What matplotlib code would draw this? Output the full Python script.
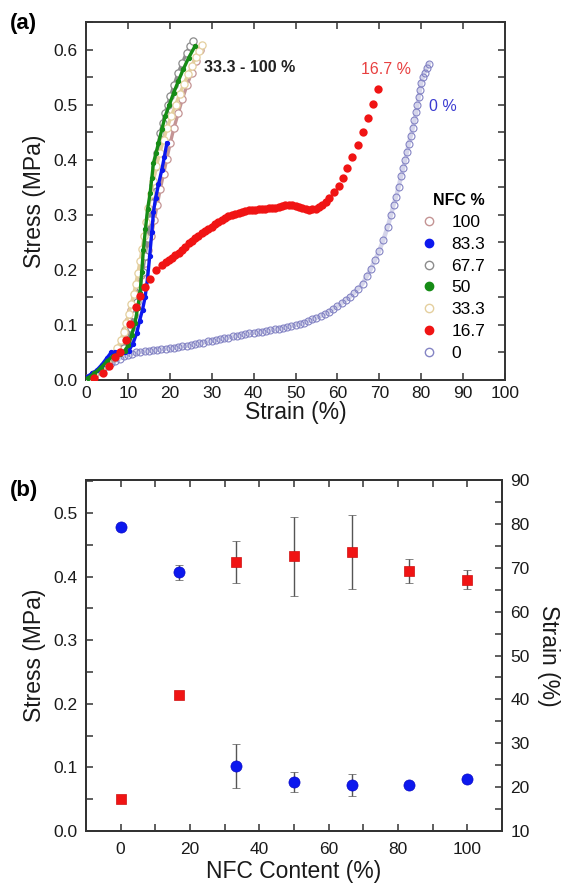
import numpy as np
import matplotlib.pyplot as plt
from matplotlib.lines import Line2D
from matplotlib.ticker import MultipleLocator

plt.rcParams['font.family'] = ['Liberation Sans', 'DejaVu Sans']

# ---------- panel (a): stress-strain curves (strain %, stress MPa) ----------
curve_0 = [
    (0, 0.000), (1, 0.006), (2, 0.011), (3, 0.016), (4, 0.021), (5, 0.026),
    (6, 0.031), (7, 0.035), (8, 0.039), (9, 0.043), (10, 0.046), (11, 0.048),
    (12, 0.050), (13, 0.051), (14, 0.052), (15, 0.053), (16, 0.054), (17, 0.055),
    (18, 0.056), (19, 0.057), (20, 0.058), (21, 0.059), (22, 0.060), (23, 0.061),
    (24, 0.062), (25, 0.064), (26, 0.065), (27, 0.067), (28, 0.068), (29, 0.070),
    (30, 0.071), (31, 0.073), (32, 0.074), (33, 0.076), (34, 0.077), (35, 0.079),
    (36, 0.080), (37, 0.082), (38, 0.083), (39, 0.085), (40, 0.086), (41, 0.087),
    (42, 0.088), (43, 0.089), (44, 0.090), (45, 0.092), (46, 0.093), (47, 0.095),
    (48, 0.096), (49, 0.098), (50, 0.100), (51, 0.102), (52, 0.104), (53, 0.107),
    (54, 0.110), (55, 0.113), (56, 0.116), (57, 0.120), (58, 0.124), (59, 0.129),
    (60, 0.134), (61, 0.139), (62, 0.145), (63, 0.151), (64, 0.158), (65, 0.166),
    (66, 0.175), (67, 0.188), (68, 0.202), (69, 0.218), (70, 0.235), (71, 0.255),
    (72, 0.278), (72.8, 0.300), (73.4, 0.318), (74.0, 0.333), (74.6, 0.350),
    (75.2, 0.370), (75.7, 0.385), (76.2, 0.400), (76.6, 0.414), (77.0, 0.428),
    (77.5, 0.443), (78.0, 0.458), (78.4, 0.472), (78.8, 0.486), (79.1, 0.500),
    (79.4, 0.514), (79.7, 0.527), (80.0, 0.540), (80.4, 0.550), (80.8, 0.558),
    (81.3, 0.566), (81.8, 0.574),
]

curve_16_7 = [
    (2.0, 0.003), (4.0, 0.012), (5.6, 0.025), (7.0, 0.042), (8.2, 0.050),
    (9.6, 0.073), (10.5, 0.102), (11.9, 0.132), (12.9, 0.153), (14.1, 0.168),
    (15.3, 0.184), (16.7, 0.199), (18.1, 0.209), (19.0, 0.214), (19.7, 0.218),
    (20.5, 0.222), (21.3, 0.227), (22.1, 0.231), (22.9, 0.236), (23.7, 0.242),
    (24.5, 0.248), (25.3, 0.252), (26.0, 0.257), (26.8, 0.262), (27.6, 0.267),
    (28.4, 0.270), (29.2, 0.274), (30.0, 0.278), (30.8, 0.283), (31.6, 0.287),
    (32.4, 0.291), (33.2, 0.294), (34.0, 0.297), (34.8, 0.300), (35.6, 0.302),
    (36.4, 0.304), (37.2, 0.305), (38.0, 0.306), (38.8, 0.308), (39.6, 0.309),
    (40.4, 0.309), (41.2, 0.310), (42.0, 0.311), (42.8, 0.311), (43.6, 0.312),
    (44.4, 0.312), (45.2, 0.313), (46.0, 0.315), (46.8, 0.316), (47.6, 0.318),
    (48.4, 0.318), (49.2, 0.317), (50.0, 0.316), (50.8, 0.314), (51.6, 0.312),
    (52.4, 0.310), (53.2, 0.309), (54.0, 0.310), (54.8, 0.311), (55.6, 0.314),
    (56.4, 0.318), (57.2, 0.324), (57.9, 0.330), (59.1, 0.341), (60.3, 0.353),
    (61.3, 0.367), (62.4, 0.385), (63.6, 0.405), (64.8, 0.427), (66.0, 0.450),
    (67.3, 0.475), (68.4, 0.501), (69.6, 0.529),
]

curve_33_3 = [
    (0.5, 0.003), (2.0, 0.010), (3.5, 0.020), (5.0, 0.032), (6.5, 0.046),
    (7.5, 0.058), (8.3, 0.072), (9.0, 0.088), (9.6, 0.104), (10.2, 0.120),
    (10.8, 0.138), (11.4, 0.156), (11.9, 0.175), (12.4, 0.195), (12.9, 0.216),
    (13.4, 0.238), (13.9, 0.262), (14.4, 0.287), (14.9, 0.312), (15.5, 0.338),
    (16.1, 0.362), (16.8, 0.388), (17.6, 0.412), (18.5, 0.436), (19.4, 0.458),
    (20.4, 0.480), (21.4, 0.500), (22.4, 0.520), (23.4, 0.538), (24.4, 0.555),
    (25.3, 0.571), (26.2, 0.586), (27.0, 0.598), (27.8, 0.608),
]

curve_50 = [
    (0.5, 0.004), (2.0, 0.012), (3.5, 0.022), (5.0, 0.034), (6.5, 0.044),
    (8.2, 0.047), (9.2, 0.053), (10.1, 0.063), (10.9, 0.082), (11.7, 0.104),
    (12.3, 0.130), (12.9, 0.158), (13.3, 0.196), (13.7, 0.236), (14.2, 0.275),
    (14.7, 0.310), (15.3, 0.339), (15.7, 0.366), (16.1, 0.394), (16.7, 0.412),
    (17.3, 0.430), (18.1, 0.455), (18.9, 0.479), (19.9, 0.500), (20.9, 0.521),
    (22.0, 0.542), (23.2, 0.564), (24.5, 0.585), (26.0, 0.606),
]

curve_67_7 = [
    (0.5, 0.003), (2.0, 0.010), (3.5, 0.019), (5.0, 0.030), (6.5, 0.042),
    (7.8, 0.050), (9.0, 0.058), (10.0, 0.072), (10.8, 0.094), (11.5, 0.118),
    (12.2, 0.142), (12.9, 0.168), (13.5, 0.196), (14.1, 0.226), (14.7, 0.258),
    (15.2, 0.290), (15.7, 0.322), (16.1, 0.354), (16.5, 0.386), (17.0, 0.412),
    (17.7, 0.448), (18.3, 0.467), (18.9, 0.485), (19.5, 0.500), (20.1, 0.515),
    (21.0, 0.535), (22.0, 0.558), (23.0, 0.576), (24.0, 0.594), (24.8, 0.606),
    (25.5, 0.615),
]

curve_83_3 = [
    (0.2, 0.006), (1.5, 0.012), (2.6, 0.018), (3.8, 0.028), (5.0, 0.040),
    (6.0, 0.050), (7.0, 0.050), (8.2, 0.049), (9.2, 0.050), (10.2, 0.053),
    (11.2, 0.066), (12.1, 0.085), (12.8, 0.108), (13.5, 0.128), (14.1, 0.150),
    (14.7, 0.185), (15.2, 0.225), (15.7, 0.268), (16.1, 0.305), (16.6, 0.330),
    (17.3, 0.355), (18.1, 0.382), (18.7, 0.405), (19.3, 0.430),
]

curve_100 = [
    (0.5, 0.002), (2.0, 0.008), (3.5, 0.016), (5.0, 0.027), (6.5, 0.040),
    (7.5, 0.052), (8.5, 0.070), (9.3, 0.090), (10.0, 0.108), (10.8, 0.128),
    (11.6, 0.148), (12.4, 0.168), (13.2, 0.190), (14.0, 0.212), (14.8, 0.236),
    (15.6, 0.262), (16.3, 0.290), (17.0, 0.318), (17.7, 0.346), (18.5, 0.374),
    (19.3, 0.402), (20.1, 0.430), (21.0, 0.458), (22.0, 0.484), (23.0, 0.510),
    (24.1, 0.535), (25.2, 0.558), (26.2, 0.580), (27.3, 0.600),
]

legend_labels = ["100", "83.3", "67.7", "50", "33.3", "16.7", "0"]

# ---------- panel (b): properties vs NFC content ----------
nfc_content = [0, 16.7, 33.3, 50, 66.7, 83.3, 100]
stress_mean = [0.478, 0.407, 0.102, 0.0775, 0.072, 0.073, 0.082]
stress_err = [0.003, 0.012, 0.035, 0.016, 0.017, 0.004, 0.003]
strain_mean = [17.3, 41.1, 71.3, 72.6, 73.6, 69.3, 67.3]
strain_err = [0.6, 0.6, 4.8, 9.0, 8.5, 2.7, 2.2]

c100 = "#c49494"
c83 = "#0c18ee"
c67 = "#8c8c8c"
c50 = "#168c16"
c33 = "#e4cf9e"
c16 = "#f01414"
c0 = "#8484c4"
spine_col = "#333333"


def style_axes(ax):
    for s in ax.spines.values():
        s.set_color(spine_col)
        s.set_linewidth(1.4)
    ax.tick_params(which="both", direction="in", length=5, width=1.1,
                   colors=spine_col, labelcolor="#1a1a1a", labelsize=12.5, pad=6)


def draw_curve(ax, pts, color, filled, ms, lw, z):
    x = [p[0] for p in pts]
    y = [p[1] for p in pts]
    if filled:
        ax.plot(x, y, "-o", color=color, mfc=color, mec=color, ms=ms, lw=lw, zorder=z)
    else:
        ax.plot(x, y, "-o", color=color, mfc="white", mec=color, ms=ms,
                mew=0.9, lw=lw, zorder=z)


fig = plt.figure(figsize=(5.69, 8.90), dpi=100)
ax_a = fig.add_axes([86 / 569, 1 - 380 / 890, 419 / 569, 358 / 890])
ax_b = fig.add_axes([86 / 569, 1 - 831 / 890, 416 / 569, 351 / 890])

# (a)
x0 = [p[0] for p in curve_0]
y0 = [p[1] for p in curve_0]
ax_a.plot(x0, y0, "-", color=c0, lw=3.2, alpha=0.35, zorder=1)
ax_a.plot(x0, y0, "o", mfc="none", mec=c0, ms=5.0, mew=0.8, zorder=2)
draw_curve(ax_a, curve_100, c100, False, 5.2, 2.4, 3)
draw_curve(ax_a, curve_67_7, c67, False, 5.2, 2.4, 3)
draw_curve(ax_a, curve_33_3, c33, False, 5.2, 2.4, 4)
draw_curve(ax_a, curve_83_3, c83, True, 2.8, 2.4, 5)
draw_curve(ax_a, curve_50, c50, True, 2.8, 2.4, 5)
x16 = [p[0] for p in curve_16_7]
y16 = [p[1] for p in curve_16_7]
ax_a.plot(x16, y16, "o", color=c16, ms=6.0, mew=0, zorder=6)

ax_a.set_xlim(0, 100)
ax_a.set_ylim(0, 0.65)
ax_a.xaxis.set_major_locator(MultipleLocator(10))
ax_a.yaxis.set_major_locator(MultipleLocator(0.1))
ax_a.yaxis.set_minor_locator(MultipleLocator(0.05))
ax_a.yaxis.set_major_formatter(plt.FormatStrFormatter("%.1f"))
style_axes(ax_a)
ax_a.tick_params(which="both", top=True, right=True)
ax_a.tick_params(axis="x", pad=4)
ax_a.set_xlabel("Strain (%)", fontsize=16.5, color="#1a1a1a", labelpad=0)
ax_a.set_ylabel("Stress (MPa)", fontsize=16.5, color="#1a1a1a", labelpad=5)

ax_a.text(28.2, 0.567, "33.3 - 100 %", fontsize=11.5, fontweight="bold",
          color="#222222", va="center")
ax_a.text(71.5, 0.563, "16.7 %", fontsize=11.5, color="#e84040",
          ha="center", va="center")
ax_a.text(85.2, 0.497, "0 %", fontsize=11.5, color="#3a3ad0",
          ha="center", va="center")

handles = [
    Line2D([], [], ls="none", marker="o", mfc="white", mec=c100, ms=6, mew=1),
    Line2D([], [], ls="none", marker="o", mfc=c83, mec=c83, ms=6),
    Line2D([], [], ls="none", marker="o", mfc="white", mec=c67, ms=6, mew=1),
    Line2D([], [], ls="none", marker="o", mfc=c50, mec=c50, ms=6),
    Line2D([], [], ls="none", marker="o", mfc="white", mec=c33, ms=6, mew=1),
    Line2D([], [], ls="none", marker="o", mfc=c16, mec=c16, ms=6),
    Line2D([], [], ls="none", marker="o", mfc="white", mec=c0, ms=6, mew=1),
]
leg = ax_a.legend(handles, legend_labels, title="NFC %", loc="upper left",
                  bbox_to_anchor=(0.77, 0.555), frameon=False, fontsize=12.5,
                  handlelength=1.0, handletextpad=0.75, labelspacing=0.38,
                  borderpad=0.2, title_fontproperties={"weight": "bold", "size": 11.5})
leg._legend_box.align = "right"

# (b)
ax_b2 = ax_b.twinx()
ax_b.errorbar(nfc_content, stress_mean, yerr=stress_err, fmt="o", color=c83,
              ms=8, mec="#0a0ac8", mew=0.5, ecolor="#555555", elinewidth=1.0,
              capsize=3, capthick=1.0, zorder=5)
ax_b2.errorbar(nfc_content, strain_mean, yerr=strain_err, fmt="s", color=c16,
               ms=7.5, mec="#d01010", mew=0.5, ecolor="#555555", elinewidth=1.0,
               capsize=3, capthick=1.0, zorder=5)

ax_b.set_xlim(-10, 110)
ax_b.set_ylim(0, 0.552)
ax_b2.set_ylim(10, 90)
ax_b.xaxis.set_major_locator(MultipleLocator(20))
ax_b.xaxis.set_minor_locator(MultipleLocator(10))
ax_b.yaxis.set_major_locator(MultipleLocator(0.1))
ax_b.yaxis.set_minor_locator(MultipleLocator(0.05))
ax_b.yaxis.set_major_formatter(plt.FormatStrFormatter("%.1f"))
ax_b2.yaxis.set_major_locator(MultipleLocator(10))
ax_b2.yaxis.set_minor_locator(MultipleLocator(5))
style_axes(ax_b)
style_axes(ax_b2)
ax_b.tick_params(which="both", top=True)
ax_b.tick_params(axis="x", pad=8)
ax_b.set_xlabel("NFC Content (%)", fontsize=16.5, color="#1a1a1a", labelpad=2)
ax_b.set_ylabel("Stress (MPa)", fontsize=16.5, color="#1a1a1a", labelpad=5)
ax_b2.set_ylabel("Strain (%)", fontsize=16.5, color="#1a1a1a", rotation=270,
                 labelpad=22)

fig.text(10 / 569, 1 - 24 / 890, "(a)", fontsize=16, fontweight="bold",
         va="center", ha="left")
fig.text(10 / 569, 1 - 491 / 890, "(b)", fontsize=16, fontweight="bold",
         va="center", ha="left")

fig.savefig("out.png", dpi=100)
